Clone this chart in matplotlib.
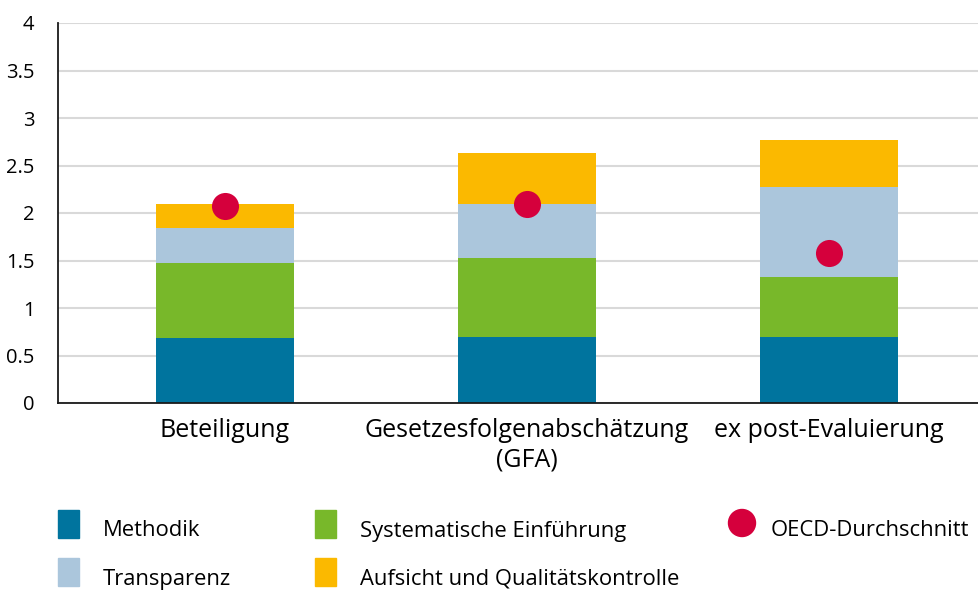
import matplotlib
matplotlib.use("Agg")
import matplotlib.pyplot as plt
from matplotlib.patches import Rectangle, Ellipse

plt.rcParams['font.family'] = ['Open Sans', 'DejaVu Sans']

# data
categories = ['Beteiligung', 'Gesetzesfolgenabschätzung\n(GFA)', 'ex post-Evaluierung']
methodik = [0.68, 0.69, 0.69]
systematisch = [0.79, 0.84, 0.64]
transparenz = [0.37, 0.57, 0.94]
aufsicht = [0.25, 0.53, 0.50]
oecd = [2.07, 2.10, 1.58]

series = [
    ('Methodik', methodik, '#00749e'),
    ('Systematische Einführung', systematisch, '#78b82a'),
    ('Transparenz', transparenz, '#abc6dc'),
    ('Aufsicht und Qualitätskontrolle', aufsicht, '#fbb900'),
]
oecd_color = '#d5003c'

yticks = [0, 0.5, 1, 1.5, 2, 2.5, 3, 3.5, 4]
ytick_labels = ['0', '0.5', '1', '1.5', '2', '2.5', '3', '3.5', '4']

W, H = 979, 590
fig = plt.figure(figsize=(W / 100, H / 100), dpi=100)
ax = fig.add_axes([58 / W, (H - 403) / H, (W - 58) / W, 380 / H])

x = list(range(len(categories)))
bottom = [0.0] * len(categories)
for name, vals, col in series:
    ax.bar(x, vals, width=0.455, bottom=bottom, color=col, zorder=2)
    bottom = [b + v for b, v in zip(bottom, vals)]

ax.scatter(x, oecd, s=380, color=oecd_color, zorder=3, linewidths=0)

ax.set_xlim(-0.553, 2.497)
ax.set_ylim(0, 4)
ax.set_yticks(yticks)
ax.set_yticklabels(ytick_labels, fontsize=14.5)
ax.set_xticks(x)
ax.set_xticklabels(categories, fontsize=18, linespacing=1.2)
ax.tick_params(axis='both', length=0)
ax.tick_params(axis='y', pad=17)
ax.tick_params(axis='x', pad=11)
ax.yaxis.grid(True, color='#d9d9d9', linewidth=1.5, zorder=0)
ax.set_axisbelow(True)
for s in ['top', 'right']:
    ax.spines[s].set_visible(False)
for s in ['left', 'bottom']:
    ax.spines[s].set_linewidth(1.3)
    ax.spines[s].set_color('#1a1a1a')

# legend drawn by hand, in pixel positions
def px(xp, yp):
    return xp / W, 1 - yp / H

legend_items = [
    ('Methodik', methodik, '#00749e', 58, 524),
    ('Transparenz', transparenz, '#abc6dc', 58, 572),
    ('Systematische Einführung', systematisch, '#78b82a', 315, 524),
    ('Aufsicht und Qualitätskontrolle', aufsicht, '#fbb900', 315, 572),
]
for name, _, col, lx, ly in legend_items:
    x0, y0 = px(lx, ly + 14)
    fig.add_artist(Rectangle((x0, y0), 21 / W, 28 / H, color=col, transform=fig.transFigure))
    tx, ty = px(lx + 45, ly + 7)
    fig.text(tx, ty, name, fontsize=15.8, va='center', ha='left')

cx, cy = px(742, 523)
fig.add_artist(Ellipse((cx, cy), 27 / W, 27 / H, color=oecd_color, transform=fig.transFigure))
tx, ty = px(771, 530)
fig.text(tx, ty, 'OECD-Durchschnitt', fontsize=15.8, va='center', ha='left')

fig.savefig('out.png', dpi=100)
